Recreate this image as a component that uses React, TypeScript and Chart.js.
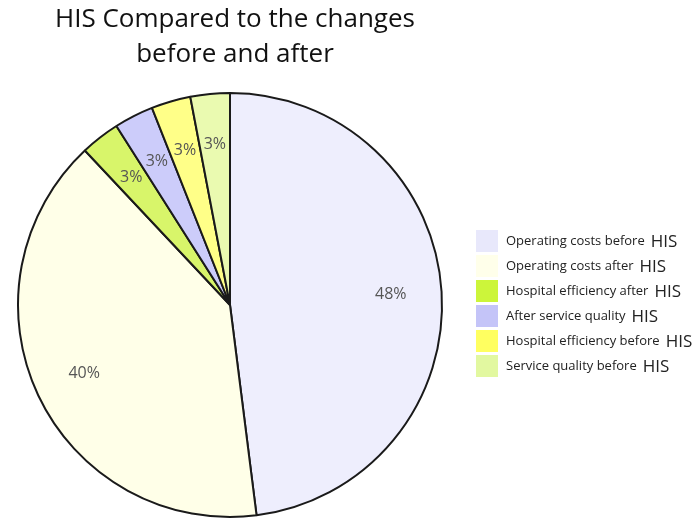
import React, { useEffect, useRef } from "react";
import { Chart, registerables } from "chart.js";

Chart.register(...registerables);

const titleLines = ["HIS Compared to the changes", "before and after"];
const categories = [
  "Operating costs before",
  "Operating costs after",
  "Hospital efficiency after",
  "After service quality",
  "Hospital efficiency before",
  "Service quality before",
];
const legendSuffix = "HIS";
const values = [48, 40, 3, 3, 3, 3];
const sliceColors = ["#EEEEFD", "#FFFFE8", "#D8F56A", "#CCCCFA", "#FFFF88", "#EAFAB0"];
const legendColors = ["#E8E8FB", "#FFFFEA", "#CCF53A", "#C4C4F8", "#FFFF60", "#E2F8A0"];

export default function App() {
  const ref = useRef<HTMLCanvasElement | null>(null);
  useEffect(() => {
    document.body.style.margin = "0";
    const canvas = ref.current;
    if (!canvas) return;
    const overlay = {
      id: "overlay",
      afterDraw(chart: any) {
        const ctx = chart.ctx as CanvasRenderingContext2D;
        ctx.save();
        // title
        ctx.fillStyle = "#111";
        ctx.font = '26px "Open Sans", sans-serif';
        ctx.textAlign = "center";
        ctx.textBaseline = "middle";
        ctx.fillText(titleLines[0], 235, 20);
        ctx.fillText(titleLines[1], 235, 55);
        // slice labels
        const meta = chart.getDatasetMeta(0);
        ctx.font = '16px "Open Sans", sans-serif';
        ctx.fillStyle = "#555";
        meta.data.forEach((arc: any, i: number) => {
          const p = arc.getProps(["x", "y", "startAngle", "endAngle", "outerRadius"], true);
          const mid = (p.startAngle + p.endAngle) / 2;
          const r = p.outerRadius * 0.76;
          ctx.fillText(values[i] + "%", p.x + Math.cos(mid) * r, p.y + Math.sin(mid) * r);
        });
        // legend
        ctx.textAlign = "left";
        categories.forEach((c, i) => {
          const cy = 241 + i * 25;
          ctx.fillStyle = legendColors[i];
          ctx.fillRect(476, cy - 11, 22, 22);
          ctx.fillStyle = "#222";
          ctx.font = '13px "Open Sans", sans-serif';
          ctx.fillText(c, 506, cy);
          const w = ctx.measureText(c).width;
          ctx.font = '17px "Open Sans", sans-serif';
          ctx.fillText(legendSuffix, 506 + w + 6, cy + 1);
        });
        ctx.restore();
      },
    };
    const chart = new Chart(canvas, {
      type: "pie",
      data: {
        labels: categories,
        datasets: [
          {
            data: values,
            backgroundColor: sliceColors,
            borderColor: "#1a1a1a",
            borderWidth: 2,
          },
        ],
      },
      options: {
        responsive: false,
        animation: false,
        layout: { padding: { left: 17, right: 253, top: 92, bottom: 2 } },
        plugins: {
          legend: { display: false },
          title: { display: false },
          tooltip: { enabled: false },
        },
      },
      plugins: [overlay],
    });
    return () => chart.destroy();
  }, []);
  return (
    <div style={{ width: 696, height: 520 }}>
      <canvas ref={ref} width={696} height={520} />
    </div>
  );
}
